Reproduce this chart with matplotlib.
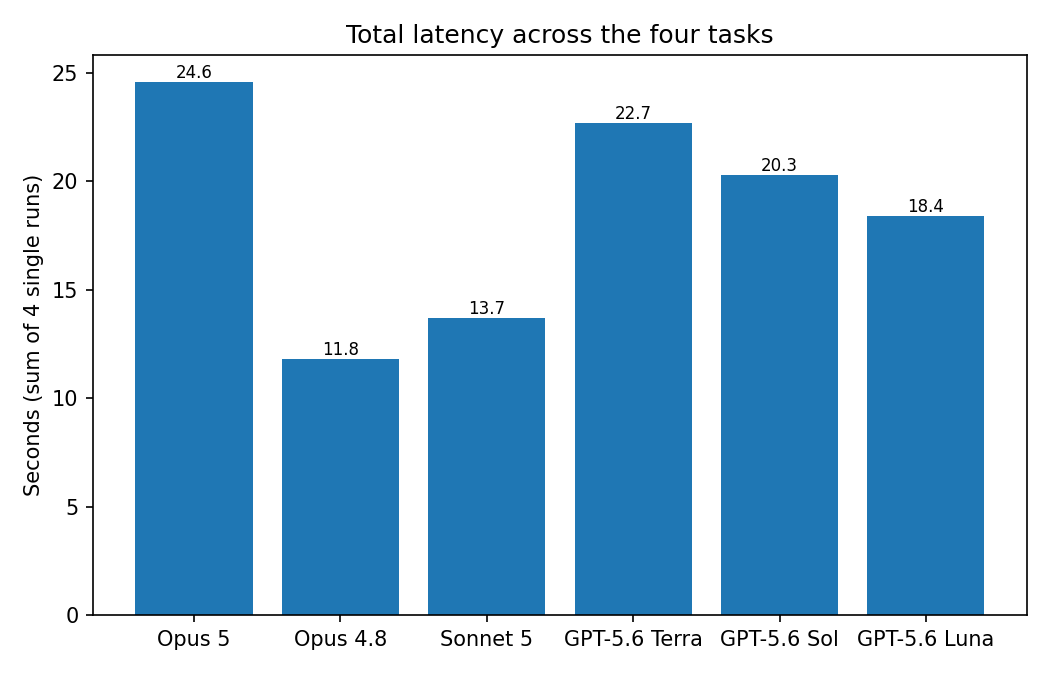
import matplotlib
matplotlib.use("Agg")
import matplotlib.pyplot as plt

models = ["Opus 5", "Opus 4.8", "Sonnet 5", "GPT-5.6 Terra", "GPT-5.6 Sol", "GPT-5.6 Luna"]
latency = [24.6, 11.8, 13.7, 22.7, 20.3, 18.4]

fig, ax = plt.subplots(figsize=(7, 4.5), dpi=150)
bars = ax.bar(models, latency, color="#1f77b4")
ax.bar_label(bars, labels=[f"{v:.1f}" for v in latency], fontsize=8)

ax.set_title("Total latency across the four tasks")
ax.set_ylabel("Seconds (sum of 4 single runs)")

fig.subplots_adjust(left=0.0886, right=0.978, top=0.9185, bottom=0.0889)
fig.savefig("out.png")
